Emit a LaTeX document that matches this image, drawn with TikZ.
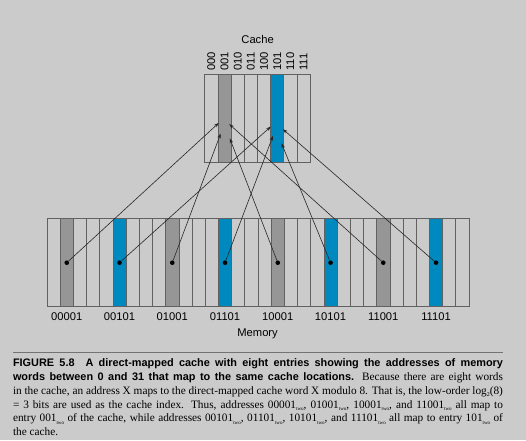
\documentclass[tikz,border=0pt]{standalone}
\usepackage{fontspec}
\setmainfont{Liberation Serif}
\setsansfont{Liberation Sans}
\usetikzlibrary{arrows.meta}
\definecolor{bgpage}{RGB}{203,203,203}
\definecolor{slotgray}{RGB}{150,150,150}
\definecolor{slotblue}{RGB}{0,137,190}
\newcommand{\subtwo}{\raisebox{-0.55ex}{\fontsize{5}{5}\selectfont two}}
\tikzset{
  cell/.style={draw=black!62, line width=0.75pt},
  dot/.style={circle, fill=black, inner sep=0pt, minimum size=4.6pt},
  maparrow/.style={-{Stealth[length=5pt,width=3.4pt]}, line width=0.6pt, black!85},
  lbl/.style={font=\sffamily\fontsize{11.2}{13}\selectfont, inner sep=0pt},
}
\begin{document}
\begin{tikzpicture}[x=1pt,y=-1pt]
    \fill[bgpage] (0,0) rectangle (526,440);
    \useasboundingbox (0,0) rectangle (526,440);
    % cache, eight entries
    \foreach \b/\c [count=\i from 0] in {000/none,001/slotgray,010/none,011/none,100/none,101/slotblue,110/none,111/none} {
        \draw[cell, fill=\c] ({204.7+13.18*\i},74.3) rectangle ++(13.18,88);
        \node[lbl, rotate=90, anchor=west] (c\b) at ({204.7+13.18*(\i+0.5)},70.8) {\b};
    }
    \draw[cell] (204.7,74.3) rectangle ++(105.44,88);
    \node[lbl] (cachetitle) at (257.6,39) {Cache};
    % memory, 32 words
    \foreach \k in {0,...,31} {
        \pgfmathtruncatemacro\r{mod(\k,8)}
        \ifnum\r=1 \def\c{slotgray}\else\ifnum\r=5 \def\c{slotblue}\else\def\c{none}\fi\fi
        \draw[cell, fill=\c] ({47+13.1875*\k},218.7) rectangle ++(13.1875,88);
    }
    \draw[cell] (47,218.7) rectangle (469,306.7);
    \foreach \a/\k in {00001/1,00101/5,01001/9,01101/13,10001/17,10101/21,11001/25,11101/29} {
        \node[dot] (m\a) at ({47+13.1875*(\k+0.5)},262.7) {};
        \node[lbl] (l\a) at ({47+13.1875*(\k+0.5)},316.8) {\a};
    }
    \node[lbl] (memtitle) at (257.6,333.4) {Memory};
    % where each word lands in the cache
    \coordinate (t00001) at (218.8,122.9);
    \coordinate (t01001) at (220.7,133.5);
    \coordinate (t10001) at (229.8,138.4);
    \coordinate (t11001) at (229.2,124.1);
    \coordinate (t00101) at (270.9,126.5);
    \coordinate (t01101) at (273.0,135.8);
    \coordinate (t10101) at (281.5,143.3);
    \coordinate (t11101) at (282.8,129.1);
    \foreach \a in {00001,00101,01001,01101,10001,10101,11001,11101}
        \draw[maparrow] (m\a) -- (t\a);
    % caption
    \draw[black!55, line width=0.9pt] (12.8,352.3) -- (503,352.3);
    \node[anchor=north west, inner sep=0pt, text width=490pt, align=justify,
          font=\fontsize{11.3}{13.8}\selectfont] (caption) at (12.8,358.5) {%
        {\sffamily\bfseries\fontsize{10.9}{13.8}\selectfont FIGURE 5.8\quad A direct-mapped cache with eight entries showing the addresses of memory\linebreak
        words between 0 and 31 that map to the same cache locations.} Because there are eight words\linebreak
        in the cache, an address X maps to the direct-mapped cache word X modulo 8. That is, the low-order log\raisebox{-0.5ex}{\fontsize{6}{6}\selectfont 2}(8)\linebreak
        = 3 bits are used as the cache index. Thus, addresses 00001\subtwo, 01001\subtwo, 10001\subtwo, and 11001\subtwo{} all map to\linebreak
        entry 001\subtwo{} of the cache, while addresses 00101\subtwo, 01101\subtwo, 10101\subtwo, and 11101\subtwo{} all map to entry 101\subtwo{} of\linebreak
        the cache.};
\end{tikzpicture}
\end{document}
